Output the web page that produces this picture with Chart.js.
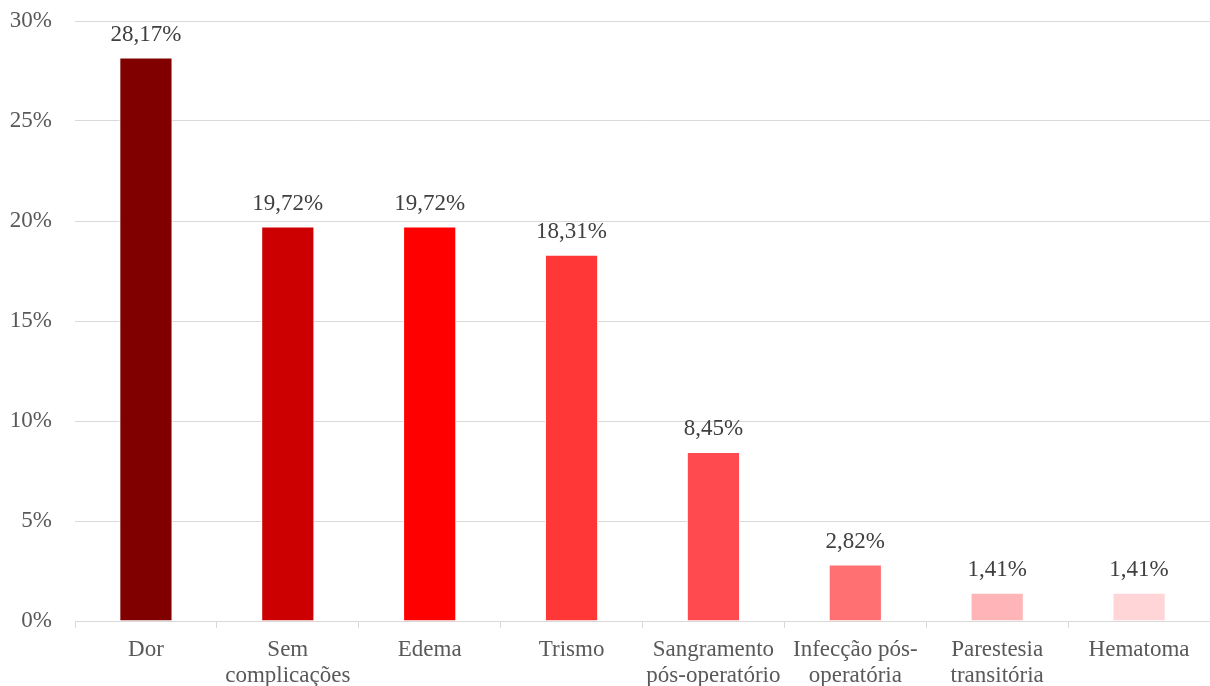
<!DOCTYPE html>
<html>
<head>
<meta charset="utf-8">
<script src="https://cdn.jsdelivr.net/npm/chart.js@4/dist/chart.umd.min.js"></script>
<style>
  html, body { margin: 0; padding: 0; background: #fff; }
  #wrap { width: 1210px; height: 686px; }
</style>
</head>
<body>
<div id="wrap"><canvas id="complicationsChart"></canvas></div>
<script>
const categories = ["Dor", ["Sem", "complicações"], "Edema", "Trismo", ["Sangramento", "pós-operatório"], ["Infecção pós-", "operatória"], ["Parestesia", "transitória"], "Hematoma"]
const percentages = [28.17, 19.72, 19.72, 18.31, 8.45, 2.82, 1.41, 1.41]
const barColors = ["#800000", "#cc0000", "#ff0000", "#ff3737", "#ff4b4f", "#ff7072", "#ffb4b7", "#ffd5d7"]
const yTicks = [0, 5, 10, 15, 20, 25, 30]

const serif = "'Times New Roman', 'Liberation Serif', serif"

// value labels above each bar, comma as decimal separator
const valueLabels = {
    id: "valueLabels",
    afterDatasetsDraw(chart) {
        const ctx = chart.ctx
        const meta = chart.getDatasetMeta(0)
        ctx.save()
        ctx.font = "23px " + serif
        ctx.fillStyle = "#404040"
        ctx.textAlign = "center"
        ctx.textBaseline = "alphabetic"
        meta.data.forEach((bar, i) => {
            const txt = percentages[i].toFixed(2).replace(".", ",") + "%"
            ctx.fillText(txt, bar.x, bar.y - 17)
        })
        ctx.restore()
    }
}

const ctx = document.getElementById("complicationsChart").getContext("2d")
new Chart(ctx, {
    type: "bar",
    data: {
        labels: categories,
        datasets: [{
            data: percentages,
            backgroundColor: barColors,
            borderColor: "#ffffff",
            borderWidth: 1,
            barPercentage: 0.375,
            categoryPercentage: 1
        }]
    },
    options: {
        responsive: true,
        maintainAspectRatio: false,
        animation: false,
        layout: { padding: { top: 21, right: 0, left: 0, bottom: 0 } },
        plugins: {
            legend: { display: false },
            tooltip: { enabled: false }
        },
        scales: {
            x: {
                grid: {
                    display: true,
                    drawOnChartArea: false,
                    drawTicks: true,
                    tickLength: 7,
                    color: "#d9d9d9",
                    offset: true
                },
                border: { color: "#d9d9d9", width: 1 },
                ticks: {
                    color: "#595959",
                    font: { family: serif, size: 23, lineHeight: 1.17 },
                    maxRotation: 0,
                    autoSkip: false,
                    padding: 8
                },
                afterFit(scale) {
                    scale.height = 65
                    scale.paddingLeft = 0
                    scale.paddingRight = 0
                }
            },
            y: {
                min: 0,
                max: 30,
                afterBuildTicks(scale) { scale.ticks = yTicks.map(v => ({ value: v })) },
                grid: { color: "#d9d9d9", drawTicks: false },
                border: { display: false },
                ticks: {
                    color: "#595959",
                    font: { family: serif, size: 23 },
                    padding: 23,
                    callback: v => v + "%"
                },
                afterFit(scale) {
                    scale.width = 75
                    scale.paddingTop = 0
                    scale.paddingBottom = 0
                }
            }
        }
    },
    plugins: [valueLabels]
})
</script>
</body>
</html>
